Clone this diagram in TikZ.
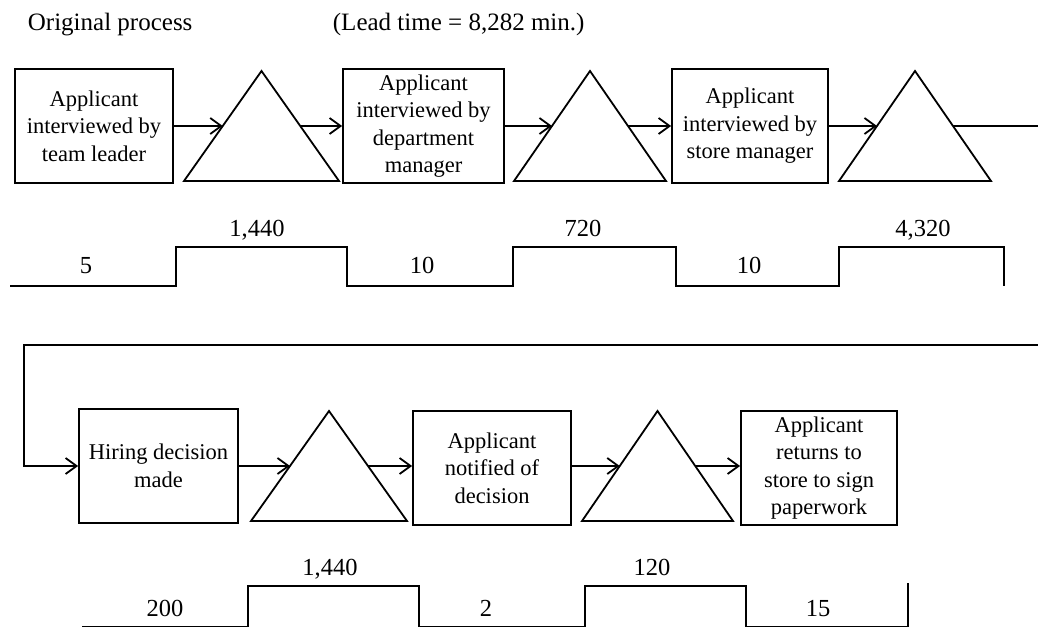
\documentclass[tikz,border=0pt]{standalone}
\usepackage{fontspec}
\setmainfont{Liberation Serif}
\usetikzlibrary{arrows.meta,calc}
\begin{document}
\begin{tikzpicture}[x=1pt,y=-1pt,line width=1.8pt,
  box/.style={draw, minimum width=#1, minimum height=114pt, inner sep=0pt, align=center,
              font=\fontsize{22.5}{27.5}\selectfont},
  tri/.style={minimum width=#1, minimum height=110pt, inner sep=0pt, outer sep=0pt},
  arr/.style={-{Straight Barb[length=11pt,width=16pt]}},
  num/.style={anchor=base, inner sep=0pt, font=\fontsize{24.5}{28}\selectfont},
  ttl/.style={anchor=base west, inner sep=0pt, font=\fontsize{25}{30}\selectfont}]
\useasboundingbox (0,0) rectangle (1038,628);

% titles
\node[ttl] (title) at (27,31) {Original process};
\node[ttl] (lead) at (332,31) {(Lead time = 8,282 min.)};

% top row
\node[box=158pt] (b1) at (94,126) {Applicant\\interviewed by\\team leader};
\node[tri=155pt] (t1) at (261.5,126) {};
\node[box=161pt] (b2) at (423.5,126) {Applicant\\interviewed by\\department\\manager};
\node[tri=152pt] (t2) at (590,126) {};
\node[box=156pt] (b3) at (750,126) {Applicant\\interviewed by\\store manager};
\node[tri=152pt] (t3) at (915,126) {};

% bottom row
\node[box=159pt] (b4) at (158.5,466) {Hiring decision\\made};
\node[tri=156pt] (t4) at (329,466) {};
\node[box=158pt] (b5) at (492,468) {Applicant\\notified of\\decision};
\node[tri=151pt] (t5) at (657.5,466) {};
\node[box=156pt] (b6) at (819,468) {Applicant\\returns to\\store to sign\\paperwork};

% triangles and their side midpoints
\foreach \t in {t1,t2,t3,t4,t5}{
  \draw[line join=miter] (\t.south west) -- (\t.north) -- (\t.south east) -- cycle;
  \coordinate (\t-l) at ($(\t.south west)!.5!(\t.north)$);
  \coordinate (\t-r) at ($(\t.south east)!.5!(\t.north)$);
}

% connectors, top row
\draw[arr] (b1.east) -- (t1-l);
\draw[arr] (t1-r) -- (b2.west);
\draw[arr] (b2.east) -- (t2-l);
\draw[arr] (t2-r) -- (b3.west);
\draw[arr] (b3.east) -- (t3-l);
\coordinate (wrapTR) at (1040,126);
\draw (t3-r) -- (wrapTR);

% wrap-around connector
\coordinate (wrapBR) at (1040,345);
\coordinate (wrapBL) at (24,345);
\draw[arr] (wrapBR) -- (wrapBL) |- (b4.west);

% connectors, bottom row
\draw[arr] (b4.east) -- (t4-l);
\draw[arr] (t4-r) -- (t4-r -| b5.west);
\draw[arr] (b5.east |- t5-l) -- (t5-l);
\draw[arr] (t5-r) -- (t5-r -| b6.west);

% top timeline
\draw[line join=miter] (10,286) -| (176,247) -| (347,286) -| (513,247) -| (676,286) -| (839,247) -| (1004,286);
\node[num] (n1) at (86,273) {5};
\node[num] (n2) at (257,237) {1,440};
\node[num] (n3) at (422,273) {10};
\node[num] (n4) at (583,237) {720};
\node[num] (n5) at (749,273) {10};
\node[num] (n6) at (923,237) {4,320};

% bottom timeline
\draw[line join=miter] (82,626.5) -| (248,586) -| (419,626.5) -| (585,586) -| (746,626.5) -| (908,583);
\node[num] (m1) at (165,616) {200};
\node[num] (m2) at (330,575) {1,440};
\node[num] (m3) at (486,616) {2};
\node[num] (m4) at (652,575) {120};
\node[num] (m5) at (818,616) {15};
\end{tikzpicture}
\end{document}
